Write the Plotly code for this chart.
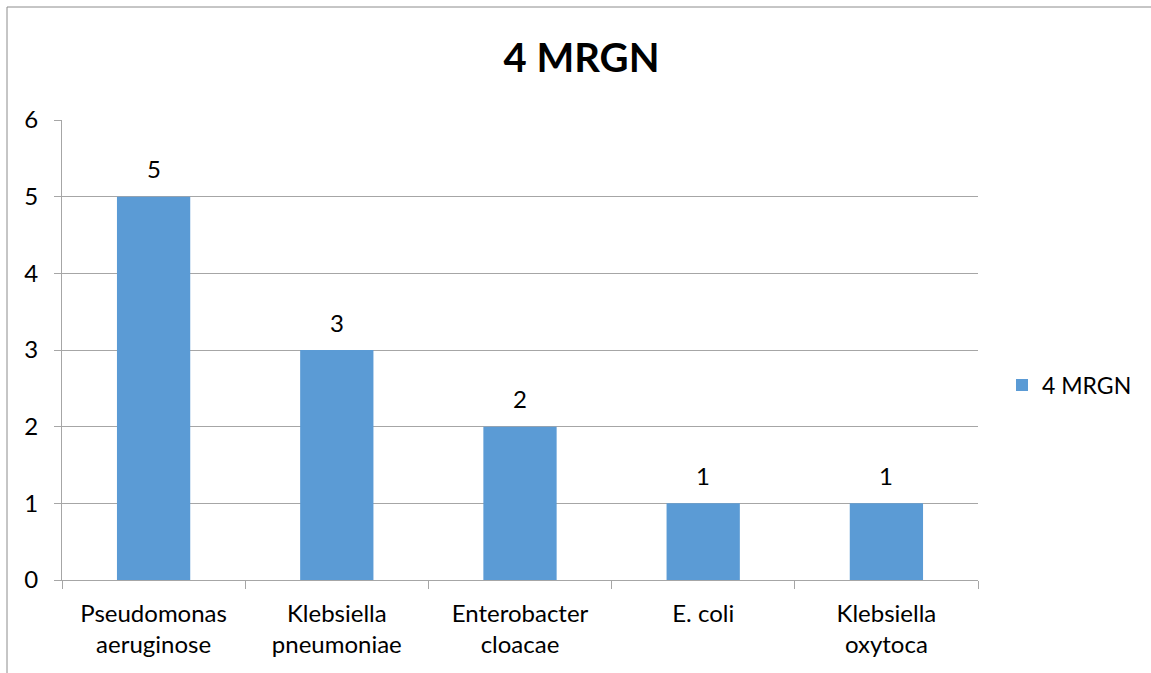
import plotly.graph_objects as go

# Isolate counts per species
species = ["Pseudomonas<br>aeruginose", "Klebsiella<br>pneumoniae", "Enterobacter<br>cloacae",
           "E. coli", "Klebsiella<br>oxytoca"]
counts = [5, 3, 2, 1, 1]
series_name = "4 MRGN"
y_ticks = [0, 1, 2, 3, 4, 5, 6]

FONT = "Lato, Carlito, Calibri, sans-serif"
BAR = "#5B9BD5"
GRID = "#a6a6a6"
FS = 24

W, H = 1151, 673
L, R, T, B = 62, 173, 120, 93
pw, ph = W - L - R, H - T - B

fig = go.Figure(go.Bar(
    x=species, y=counts, name=series_name,
    marker=dict(color=BAR, line=dict(width=0)),
    showlegend=True,
))

# value labels above each bar
for name, val in zip(species, counts):
    fig.add_annotation(x=name, y=val, text=str(val), showarrow=False,
                       yanchor="middle", yshift=28,
                       font=dict(family=FONT, size=FS, color="#000000"))

# outer chart border (left and top edges visible)
bx0 = (7 - L) / pw
by1 = 1 + (T - 7) / ph
fig.add_shape(type="rect", xref="paper", yref="paper",
              x0=bx0, x1=(W + 5 - L) / pw, y0=-(B + 5) / ph, y1=by1,
              line=dict(color="#8c8c8c", width=1), fillcolor="rgba(0,0,0,0)", layer="below")

fig.update_layout(
    width=W, height=H,
    margin=dict(l=L, r=R, t=T, b=B),
    paper_bgcolor="white", plot_bgcolor="white",
    font=dict(family=FONT, size=FS, color="#000000"),
    title=dict(text="<b>4 MRGN</b>", font=dict(family=FONT, size=40, color="#000000"),
               xref="container", x=581.5 / W, xanchor="center",
               yref="container", y=1 - 58 / H, yanchor="middle"),
    bargap=0.6,
    showlegend=True,
    legend=dict(x=(1002 - L) / pw, xanchor="left", y=(H - B - 385) / ph, yanchor="middle",
                font=dict(family=FONT, size=FS - 1, color="#000000"),
                bgcolor="rgba(0,0,0,0)", itemwidth=30),
    xaxis=dict(showline=True, linecolor=GRID, linewidth=1, ticks="outside", ticklen=8,
               tickcolor=GRID, tickson="boundaries", showgrid=False, ticklabelstandoff=12,
               tickfont=dict(family=FONT, size=FS, color="#000000")),
    yaxis=dict(range=[0, 6], tickvals=y_ticks, showline=True, linecolor=GRID, linewidth=1,
               ticks="outside", ticklen=7, tickcolor=GRID, showgrid=True, gridcolor=GRID,
               gridwidth=1, zeroline=False, ticklabelstandoff=11,
               tickfont=dict(family=FONT, size=FS, color="#000000")),
)

fig.write_html("out.html")
